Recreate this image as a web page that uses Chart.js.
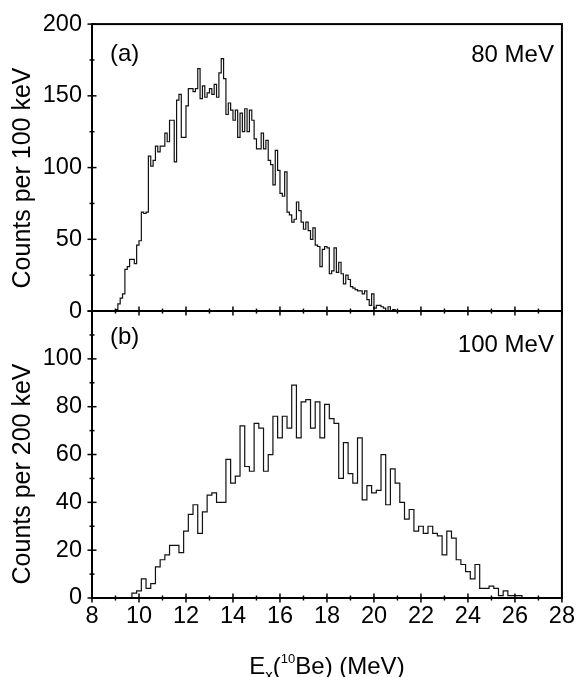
<!DOCTYPE html>
<html>
<head>
<meta charset="utf-8">
<script src="https://cdn.jsdelivr.net/npm/chart.js@4.4.1/dist/chart.umd.min.js"></script>
<style>
    html, body { margin: 0; padding: 0; background: #fff; }
    #wrap { width: 579px; height: 677px; }
</style>
</head>
<body>
<div id="wrap"><canvas id="chart" width="579" height="677"></canvas></div>
<script>
// -------------- DATA ------------------

// panel (a): 80 MeV, 100 keV bins starting at 9.0 MeV
const binStartA = 9.0;
const binWidthA = 0.1;
const countsA = [
    1, 5, 9, 12, 29, 31, 36, 36, 33, 46,
    49, 69, 68, 69, 108, 101, 105, 115, 111, 115,
    115, 124, 118, 133, 133, 104, 147, 151, 121, 121,
    143, 155, 155, 153, 155, 169, 148, 157, 149, 152,
    155, 151, 158, 149, 166, 176, 162, 137, 145, 140,
    133, 140, 121, 138, 125, 141, 125, 140, 133, 120,
    113, 113, 124, 113, 119, 105, 102, 88, 112, 98,
    82, 80, 97, 69, 67, 62, 64, 76, 70, 62,
    57, 62, 56, 50, 58, 46, 45, 31, 43, 45,
    44, 26, 28, 44, 27, 34, 26, 19, 25, 22,
    17, 16, 15, 14, 14, 12, 14, 8, 4, 12,
    2, 4, 4, 3, 2, 0, 3, 0, 1, 0,
];

// panel (b): 100 MeV, 200 keV bins starting at 9.7 MeV
const binStartB = 9.7;
const binWidthB = 0.2;
const countsB = [
    2, 3, 8, 4, 6, 13, 16, 18, 22, 22,
    19, 28, 35, 39, 27, 36, 43, 44, 40, 40,
    58, 48, 51, 72, 55, 53, 73, 71, 53, 60,
    76, 67, 76, 71, 89, 67, 82, 83, 71, 82,
    67, 81, 75, 73, 50, 65, 52, 48, 67, 41,
    47, 44, 45, 60, 39, 54, 48, 40, 33, 37,
    28, 30, 27, 30, 27, 26, 18, 28, 25, 16,
    14, 11, 8, 14, 4, 4, 5, 4, 1, 3,
    1, 1, 1,
];

const xRange = [8, 28];
const yRangeA = [0, 200];
const yRangeB = [0, 120];
const panelLabels = ["(a)", "(b)"];
const energyLabels = ["80 MeV", "100 MeV"];
const yTitles = ["Counts per 100 keV", "Counts per 200 keV"];


// ------------ HELPERS ------------------

const FONT = "'Liberation Sans', Arial, Helvetica, sans-serif";

// turn bin counts into points for a stepped line
function toSteps(start, width, counts) {
    const pts = [{ x: start, y: 0 }];
    counts.forEach((c, i) => {
        pts.push({ x: +(start + i * width).toFixed(2), y: c });
    });
    pts.push({ x: +(start + counts.length * width).toFixed(2), y: 0 });
    return pts;
}

function drawTicks(ctx, scale, from, to, step, majorEvery, pos) {
    for (let v = from; v <= to + 1e-9; v += step) {
        const major = Math.abs(v / majorEvery - Math.round(v / majorEvery)) < 1e-6;
        const len = major ? 4.5 : 2.5;
        const p = scale.getPixelForValue(v);
        ctx.beginPath();
        if (scale.isHorizontal()) {
            ctx.moveTo(p, pos - len);
            ctx.lineTo(p, pos + len);
        } else {
            ctx.moveTo(pos - len, p);
            ctx.lineTo(pos + len, p);
        }
        ctx.stroke();
    }
}

const framePlugin = {
    id: "frame",
    afterDatasetsDraw(chart) {
        const { ctx, chartArea: a, scales } = chart;
        const mid = scales.yA.bottom;
        ctx.save();
        ctx.strokeStyle = "#000";
        ctx.lineWidth = 2;
        ctx.strokeRect(a.left, a.top, a.width, a.height);
        ctx.beginPath();
        ctx.moveTo(a.left, mid);
        ctx.lineTo(a.right, mid);
        ctx.stroke();

        ctx.lineWidth = 1.5;
        drawTicks(ctx, scales.x, 8, 28, 1, 2, a.bottom);
        drawTicks(ctx, scales.x, 8, 28, 1, 2, mid);
        drawTicks(ctx, scales.yA, 0, 200, 25, 50, a.left);
        drawTicks(ctx, scales.yB, 0, 120, 10, 20, a.left);

        // panel labels
        ctx.fillStyle = "#000";
        ctx.font = "24px " + FONT;
        ctx.textBaseline = "alphabetic";
        ctx.textAlign = "left";
        ctx.fillText(panelLabels[0], a.left + 18, a.top + 37);
        ctx.fillText(panelLabels[1], a.left + 18, mid + 33);
        ctx.textAlign = "right";
        ctx.fillText(energyLabels[0], a.right - 8, a.top + 38);
        ctx.fillText(energyLabels[1], a.right - 8, mid + 41);

        // y titles, rotated
        ctx.font = "25px " + FONT;
        ctx.textAlign = "center";
        [[yTitles[0], 178], [yTitles[1], 474]].forEach(([t, cy]) => {
            ctx.save();
            ctx.translate(29.5, cy);
            ctx.rotate(-Math.PI / 2);
            ctx.fillText(t, 0, 0);
            ctx.restore();
        });

        // x title: E_x(^10Be) (MeV)
        const parts = [
            { t: "E", size: 24, dy: 0 },
            { t: "x", size: 15, dy: 6 },
            { t: "(", size: 24, dy: 0 },
            { t: "10", size: 13, dy: -11 },
            { t: "Be) (MeV)", size: 24, dy: 0 },
        ];
        let total = 0;
        parts.forEach(p => {
            ctx.font = p.size + "px " + FONT;
            p.w = ctx.measureText(p.t).width;
            total += p.w;
        });
        let x = (a.left + a.right) / 2 - total / 2;
        const base = 674;
        ctx.textAlign = "left";
        parts.forEach(p => {
            ctx.font = p.size + "px " + FONT;
            ctx.fillText(p.t, x, base + p.dy);
            x += p.w;
        });
        ctx.restore();
    },
};


// ------------ CREATE CHART ------------------

const tickFont = { family: FONT, size: 23.5 };

new Chart(document.getElementById("chart"), {
    type: "line",
    data: {
        datasets: [
            {
                label: "80 MeV",
                data: toSteps(binStartA, binWidthA, countsA),
                yAxisID: "yA",
                stepped: "before",
                borderColor: "#111",
                borderWidth: 1.2,
                pointRadius: 0,
                fill: false,
            },
            {
                label: "100 MeV",
                data: toSteps(binStartB, binWidthB, countsB),
                yAxisID: "yB",
                stepped: "before",
                borderColor: "#111",
                borderWidth: 1.2,
                pointRadius: 0,
                fill: false,
            },
        ],
    },
    options: {
        responsive: false,
        animation: false,
        layout: { padding: { top: 15, right: 13, bottom: 0, left: 0 } },
        plugins: {
            legend: { display: false },
            tooltip: { enabled: false },
        },
        scales: {
            x: {
                type: "linear",
                min: xRange[0],
                max: xRange[1],
                afterFit: (s) => { s.height = 79; },
                grid: { display: false, drawTicks: false },
                border: { display: false },
                ticks: {
                    stepSize: 2,
                    autoSkip: false,
                    maxRotation: 0,
                    padding: 4,
                    color: "#000",
                    font: tickFont,
                },
            },
            yA: {
                type: "linear",
                position: "left",
                stack: "panels",
                stackWeight: 1,
                weight: 2,
                min: yRangeA[0],
                max: yRangeA[1],
                afterFit: (s) => { s.width = 92; },
                grid: { display: false, drawTicks: false },
                border: { display: false },
                ticks: { stepSize: 50, autoSkip: false, padding: 10, color: "#000", font: tickFont },
            },
            yB: {
                type: "linear",
                position: "left",
                stack: "panels",
                stackWeight: 1,
                weight: 1,
                min: yRangeB[0],
                max: yRangeB[1],
                afterFit: (s) => { s.width = 92; },
                grid: { display: false, drawTicks: false },
                border: { display: false },
                ticks: {
                    stepSize: 20,
                    autoSkip: false,
                    padding: 10,
                    color: "#000",
                    font: tickFont,
                    callback: (v) => (v === yRangeB[1] ? "" : v),
                },
            },
        },
    },
    plugins: [framePlugin],
});
</script>
</body>
</html>
